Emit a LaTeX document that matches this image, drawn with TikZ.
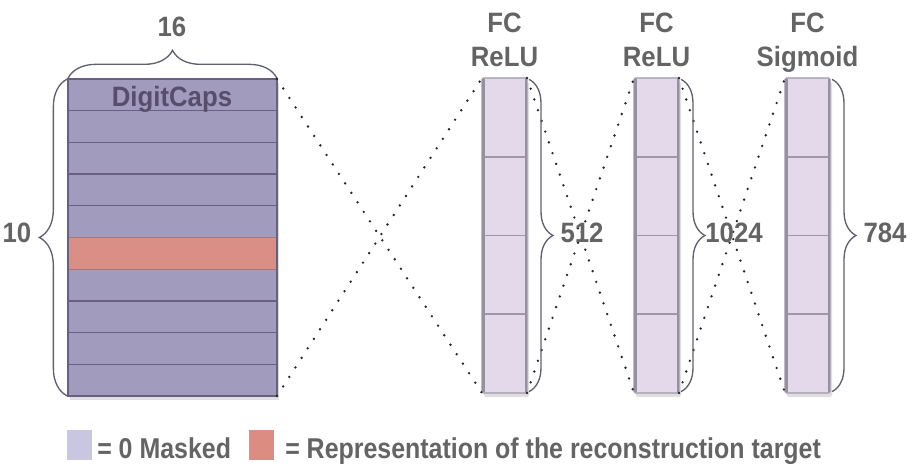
\documentclass[tikz,border=0pt]{standalone}
\usepackage{fontspec}
\setmainfont{Liberation Sans}[FakeStretch=0.92]
\newfontfamily\legfont{Liberation Sans}[FakeStretch=0.87]
\usetikzlibrary{decorations.pathreplacing,shadows}
\definecolor{capfill}{RGB}{161,155,190}
\definecolor{capline}{RGB}{105,95,130}
\definecolor{pinkrow}{RGB}{217,143,133}
\definecolor{pinkedge}{RGB}{175,115,115}
\definecolor{fcfill}{RGB}{227,217,234}
\definecolor{fcline}{RGB}{160,150,170}
\definecolor{fcedge}{RGB}{150,145,160}
\definecolor{legpurple}{RGB}{200,198,225}
\definecolor{legpink}{RGB}{221,140,130}
\definecolor{txtgray}{RGB}{100,100,100}
\definecolor{captxt}{RGB}{88,78,108}
\definecolor{bracecol}{RGB}{100,95,110}
\tikzset{
  lbl/.style={font=\fontsize{21}{21}\selectfont\bfseries, text=txtgray, inner sep=0pt, anchor=base},
  leglbl/.style={font=\legfont\fontsize{21.5}{21.5}\selectfont\bfseries, text=txtgray, inner sep=0pt, anchor=base west},
  capbox/.style={fill=capfill, draw=capline, line width=0.8pt, inner sep=0pt, outer sep=0pt,
     minimum width={209*0.75pt}, minimum height={317*0.75pt},
     drop shadow={opacity=0.25, shadow xshift=1.5pt, shadow yshift=-3pt}},
  fcbox/.style={fill=fcfill, draw=fcline, line width=0.8pt, inner sep=0pt, outer sep=0pt,
     rounded corners=1pt,
     minimum width={45*0.75pt}, minimum height={315*0.75pt},
     drop shadow={opacity=0.25, shadow xshift=1.5pt, shadow yshift=-3pt}},
  dots/.style={line width=2pt, line cap=round, dash pattern=on 0pt off 8.5pt, black!85},
  brc/.style={decorate, decoration={brace, amplitude=#1}, draw=bracecol, line width=1pt},
  legsq/.style={inner sep=0pt, outer sep=0pt, minimum width={25*0.75pt}, minimum height={30*0.75pt}},
}
\begin{document}
\begin{tikzpicture}[x=0.75pt,y=-0.75pt]
\useasboundingbox (0,0) rectangle (912,473);
% DigitCaps
\node[capbox] (dc) at (172.5,237.5) {};
\fill[pinkrow] ([yshift={-5*31.7*0.75pt}]dc.north west) rectangle ++(209,31.7);
\foreach \k in {1,...,9} {
  \draw[capline, line width=1pt] ([yshift={-\k*31.7*0.75pt}]dc.north west) -- ++(209,0);
}
\draw[pinkedge, line width=1pt] ([yshift={-5*31.7*0.75pt}]dc.north west) -- ++(209,0);
\draw[pinkedge, line width=1pt] ([yshift={-6*31.7*0.75pt}]dc.north west) -- ++(209,0);
\draw[capline, line width=1.2pt] (dc.north west) rectangle (dc.south east);
\node[lbl, text=captxt] (dclabel) at (172,107) {DigitCaps};
% braces of DigitCaps
\draw[brc=21pt] ([yshift=0.5pt]dc.north west) -- ([yshift=0.5pt]dc.north east);
\node[lbl] (n16) at (172,37) {16};
\draw[brc=21pt] ([xshift=-0.5pt]dc.south west) -- ([xshift=-0.5pt]dc.north west);
\node[lbl] (n10) at (17,243) {10};
% FC layers
\foreach \n/\cx in {fc1/504.5, fc2/656.5, fc3/807.5} {
  \node[fcbox] (\n) at (\cx,235.5) {};
  \foreach \k in {1,2,3} {
    \draw[fcline, line width=1.2pt] ([yshift={-\k*78.75*0.75pt}]\n.north west) -- ++(45,0);
  }
  \draw[fcedge, line width=2.2pt] ([xshift=1.1pt,yshift=-0.5pt]\n.north west) -- ([xshift=1.1pt,yshift=0.5pt]\n.south west);
  \draw[fcedge, line width=1.6pt] ([xshift=-0.8pt,yshift=-0.5pt]\n.north east) -- ([xshift=-0.8pt,yshift=0.5pt]\n.south east);
}
\node[lbl] (fc1a) at (504.5,33) {FC};
\node[lbl] (fc1b) at (504.5,67) {ReLU};
\node[lbl] (fc2a) at (656.5,33) {FC};
\node[lbl] (fc2b) at (656.5,67) {ReLU};
\node[lbl] (fc3a) at (807.5,33) {FC};
\node[lbl] (fc3b) at (807.5,67) {Sigmoid};
% dotted connectors
\draw[dots] (dc.north east) -- (fc1.south west);
\draw[dots] (dc.south east) -- (fc1.north west);
\draw[dots] (fc1.north east) -- (fc2.south west);
\draw[dots] (fc1.south east) -- (fc2.north west);
\draw[dots] (fc2.north east) -- (fc3.south west);
\draw[dots] (fc2.south east) -- (fc3.north west);
% braces of FC layers
\draw[brc=18pt] ([xshift=1.5pt,yshift=-1pt]fc1.north east) -- ([xshift=1.5pt,yshift=1pt]fc1.south east);
\node[lbl] (n512) at (582,243) {512};
\draw[brc=18pt] ([xshift=1.5pt,yshift=-1pt]fc2.north east) -- ([xshift=1.5pt,yshift=1pt]fc2.south east);
\node[lbl] (n1024) at (734,243) {1024};
\draw[brc=18pt] ([xshift=1.5pt,yshift=-1pt]fc3.north east) -- ([xshift=1.5pt,yshift=1pt]fc3.south east);
\node[lbl] (n784) at (885,243) {784};
% legend
\node[legsq, fill=legpurple] (lg1) at (79.5,445) {};
\node[leglbl] (lg1t) at (97,458) {= 0 Masked};
\node[legsq, fill=legpink] (lg2) at (261,445) {};
\node[leglbl] (lg2t) at (285,458) {= Representation of the reconstruction target};
\end{tikzpicture}
\end{document}
